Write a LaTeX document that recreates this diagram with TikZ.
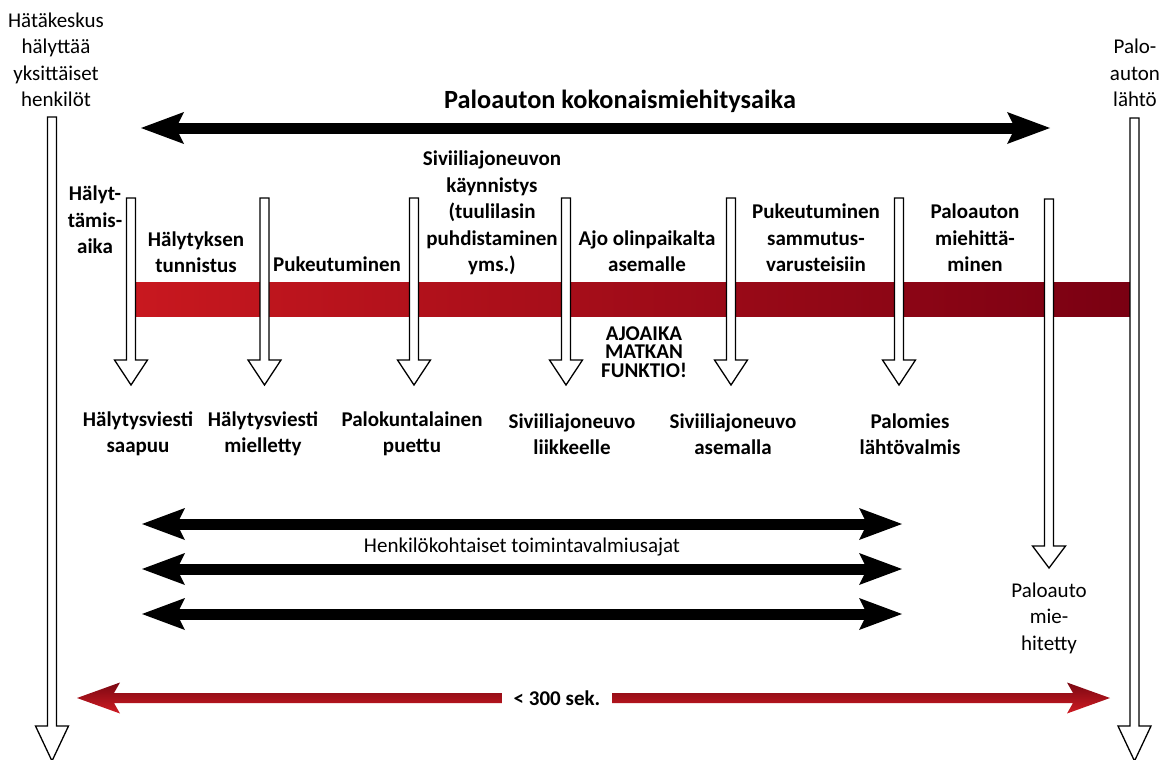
\documentclass[tikz,border=0pt]{standalone}
\usepackage{fontspec}
\setmainfont{Carlito}
\usetikzlibrary{arrows.meta}
\definecolor{barleft}{HTML}{C8181F}
\definecolor{barright}{HTML}{7A0012}
\definecolor{redtop}{HTML}{7A0812}
\definecolor{redbot}{HTML}{D01B23}
\newcommand{\lblfont}{\fontsize{21}{26.5}\selectfont}
\tikzset{x=1pt, y=-1pt,
  lbl/.style={align=center, inner sep=0pt, font=\lblfont},
  blbl/.style={lbl, font=\lblfont\bfseries},
  hollow/.style={draw=black, fill=white, line width=1.3pt, line join=miter},
  bigarrow/.style={line width=11pt,
    {Stealth[length=43pt, width=32pt, inset=8pt, line width=0pt]}-{Stealth[length=43pt, width=32pt, inset=8pt, line width=0pt]}}}
% hollow marker arrow: x, top, tip, head length
\newcommand{\hollowdown}[4]{%
  \draw[hollow] (#1-4.5,#2) -- (#1+4.5,#2) -- (#1+4.5,#3-#4) -- (#1+16.5,#3-#4)
    -- (#1,#3) -- (#1-16.5,#3-#4) -- (#1-4.5,#3-#4) -- cycle;}

\begin{document}
\begin{tikzpicture}
  \useasboundingbox (0,0) rectangle (1163,760);
  % red time bar
  \shade[left color=barleft, right color=barright] (136,282) rectangle (1130,316);
  % time markers
  \hollowdown{52}{117}{761}{35}
  \hollowdown{1134.5}{118}{761}{35}
  \foreach \x in {131,264.5,414,566,731,899} {
    \hollowdown{\x}{198}{385}{25}
  }
  \hollowdown{1049}{199}{568}{22}

  % top
  \node[lbl] (hatakeskus) at (56,60) {Hätäkeskus\\hälyttää\\yksittäiset\\henkilöt};
  \node[lbl] (lahto) at (1135,73) {Palo-\\auton\\lähtö};
  \node[lbl, font=\fontsize{26.3}{32}\selectfont\bfseries] (kokonais) at (620,101) {Paloauton kokonaismiehitysaika};
  \coordinate (kl) at (141,128);
  \coordinate (kr) at (1050,128);
  \draw[bigarrow] (kl) -- (kr);

  % phases
  \node[blbl] (halytysaika) at (95,220) {Hälyt-\\tämis-\\aika};
  \node[blbl] (tunnistus) at (196,252) {Hälytyksen\\tunnistus};
  \node[blbl] (pukeutuminen) at (337,264) {Pukeutuminen};
  \node[blbl] (kaynnistys) at (492,213) {Siviiliajoneuvon\\käynnistys\\(tuulilasin\\puhdistaminen\\yms.)};
  \node[blbl] (ajo) at (647,251) {Ajo olinpaikalta\\asemalle};
  \node[blbl] (varusteet) at (816,238) {Pukeutuminen\\sammutus-\\varusteisiin};
  \node[blbl] (miehittaminen) at (975,238) {Paloauton\\miehittä-\\minen};
  \node[lbl, font=\fontsize{21}{18.5}\selectfont\bfseries] (ajoaika) at (644,352) {AJOAIKA\\MATKAN\\FUNKTIO!};

  % events
  \node[blbl] (saapuu) at (138,434) {Hälytysviesti\\saapuu};
  \node[blbl] (mielletty) at (263,434) {Hälytysviesti\\mielletty};
  \node[blbl] (puettu) at (412,434) {Palokuntalainen\\puettu};
  \node[blbl] (liikkeelle) at (572,434) {Siviiliajoneuvo\\liikkeelle};
  \node[blbl] (asemalla) at (733,434) {Siviiliajoneuvo\\asemalla};
  \node[blbl] (lahtovalmis) at (910,434) {Palomies\\lähtövalmis};

  % personal times
  \foreach \y [count=\i] in {524,569,614} {
    \coordinate (hl\i) at (142,\y);
    \coordinate (hr\i) at (902,\y);
    \draw[bigarrow] (hl\i) -- (hr\i);
  }
  \node[lbl] (henkilo) at (522,547) {Henkilökohtaiset toimintavalmiusajat};
  \node[lbl] (miehitetty) at (1049,618) {Paloauto\\mie-\\hitetty};

  % total limit
  \shade[top color=redtop, bottom color=redbot]
    (77,698) -- (120,682.5) -- (114,693) -- (1073,693) -- (1067,682.5) -- (1110,698)
    -- (1067,713.5) -- (1073,703) -- (114,703) -- (120,713.5) -- cycle;
  \node[blbl, fill=white, inner xsep=12pt, inner ysep=8pt] (sek) at (557,698) {< 300 sek.};
\end{tikzpicture}
\end{document}
